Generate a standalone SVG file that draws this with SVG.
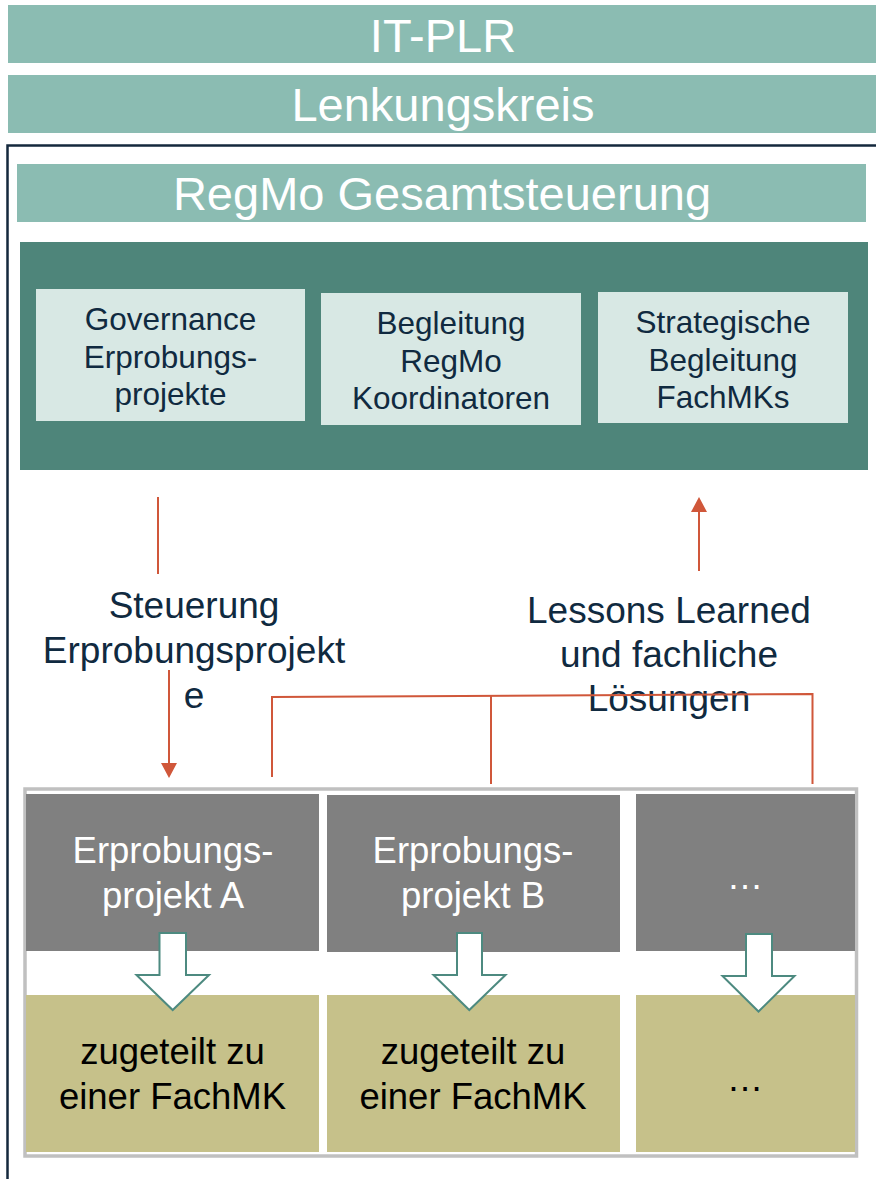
<svg xmlns="http://www.w3.org/2000/svg" width="876" height="1179" viewBox="0 0 876 1179">
  <style>
    text { font-family: "Liberation Sans", Arial, sans-serif; text-anchor: middle; }
    .band { fill: #8bbcb2; }
    .band-t { fill: #ffffff; font-size: 47px; }
    .unit { fill: #d8e8e4; }
    .unit-t { fill: #102a40; font-size: 31.5px; }
    .flow-t { fill: #102a40; font-size: 37px; }
    .proj { fill: #808080; }
    .proj-t { fill: #ffffff; font-size: 36.5px; }
    .mk { fill: #c6c18a; }
    .mk-t { fill: #000000; font-size: 36.5px; }
    .red { stroke: #d0573a; stroke-width: 2; fill: none; }
    .tip { fill: #d0573a; }
    .block { fill: #ffffff; stroke: #4d8a80; stroke-width: 2; stroke-linejoin: miter; }
  </style>
  <rect width="876" height="1179" fill="#ffffff"/>

  <!-- top-level bodies -->
  <g id="it-plr">
    <rect class="band" x="8" y="5" width="868" height="58"/>
    <text class="band-t" x="443" y="52">IT-PLR</text>
  </g>
  <g id="lenkungskreis">
    <rect class="band" x="8" y="75" width="868" height="58"/>
    <text class="band-t" x="443" y="121">Lenkungskreis</text>
  </g>

  <!-- RegMo frame -->
  <path id="regmo-frame" d="M7.5,1179 V145.5 H876" fill="none" stroke="#14293d" stroke-width="2.5"/>

  <g id="gesamtsteuerung">
    <rect class="band" x="17" y="164" width="849" height="58"/>
    <text class="band-t" x="442" y="210">RegMo Gesamtsteuerung</text>
  </g>

  <g id="steuerungsebene">
    <rect x="20" y="242" width="848" height="228" fill="#4e857a"/>
  </g>
  <g id="governance">
    <rect class="unit" x="36" y="289" width="269" height="132"/>
    <text class="unit-t" x="170.5"><tspan x="170.5" y="330">Governance</tspan><tspan x="170.5" y="367.5">Erprobungs-</tspan><tspan x="170.5" y="405">projekte</tspan></text>
  </g>
  <g id="koordinatoren">
    <rect class="unit" x="321" y="293" width="260" height="132"/>
    <text class="unit-t" x="451"><tspan x="451" y="334">Begleitung</tspan><tspan x="451" y="371.5">RegMo</tspan><tspan x="451" y="409">Koordinatoren</tspan></text>
  </g>
  <g id="fachmks">
    <rect class="unit" x="598" y="292" width="250" height="131"/>
    <text class="unit-t" x="723"><tspan x="723" y="333">Strategische</tspan><tspan x="723" y="370.5">Begleitung</tspan><tspan x="723" y="408">FachMKs</tspan></text>
  </g>

  <!-- labels on the flows -->
  <g id="label-steuerung">
    <text class="flow-t"><tspan x="194" y="618">Steuerung</tspan><tspan x="194" y="663">Erprobungsprojekt</tspan><tspan x="194" y="708">e</tspan></text>
  </g>
  <g id="label-lessons">
    <text class="flow-t"><tspan x="669" y="623">Lessons Learned</tspan><tspan x="669" y="667">und fachliche</tspan><tspan x="669" y="711">Lösungen</tspan></text>
  </g>

  <!-- project container -->
  <g id="projekte">
    <rect x="25" y="789" width="831.5" height="367" fill="#ffffff" stroke="#c0c0c0" stroke-width="3.5"/>
  </g>
  <g id="projekt-a">
    <rect class="proj" x="26" y="794" width="293" height="157"/>
    <text class="proj-t"><tspan x="173" y="863">Erprobungs-</tspan><tspan x="173" y="908">projekt A</tspan></text>
  </g>
  <g id="projekt-b">
    <rect class="proj" x="327" y="795" width="293" height="157"/>
    <text class="proj-t"><tspan x="473" y="863">Erprobungs-</tspan><tspan x="473" y="908">projekt B</tspan></text>
  </g>
  <g id="projekt-weitere">
    <rect class="proj" x="636" y="794" width="219" height="157"/>
    <text class="proj-t" x="745" y="889">…</text>
  </g>
  <g id="fachmk-a">
    <rect class="mk" x="26" y="995" width="293" height="157"/>
    <text class="mk-t"><tspan x="172.5" y="1064">zugeteilt zu</tspan><tspan x="172.5" y="1109">einer FachMK</tspan></text>
  </g>
  <g id="fachmk-b">
    <rect class="mk" x="327" y="995" width="293" height="157"/>
    <text class="mk-t"><tspan x="473" y="1064">zugeteilt zu</tspan><tspan x="473" y="1109">einer FachMK</tspan></text>
  </g>
  <g id="fachmk-weitere">
    <rect class="mk" x="636" y="995" width="219" height="157"/>
    <text class="mk-t" x="745" y="1091">…</text>
  </g>

  <!-- connectors -->
  <g id="connectors">
    <line class="red" x1="158" y1="497" x2="158" y2="574"/>
    <line class="red" x1="169" y1="670" x2="169" y2="764"/>
    <polygon class="tip" points="161,763 177,763 169,778"/>
    <line class="red" x1="699" y1="571" x2="699" y2="511"/>
    <polygon class="tip" points="691,512 707,512 699,497"/>
    <path class="red" d="M272,777 V697 L812.5,694 V784"/>
    <line class="red" x1="491" y1="696" x2="491" y2="784"/>
    <path class="block" d="M159.5,933 H186 V975 H209 L172.7,1010 L136.5,975 H159.5 Z"/>
    <path class="block" d="M457,933 H482 V975 H505.5 L469.3,1010 L433.5,975 H457 Z"/>
    <path class="block" d="M746,934 H772 V976 H794.5 L758.5,1011.5 L722.5,976 H746 Z"/>
  </g>
</svg>
